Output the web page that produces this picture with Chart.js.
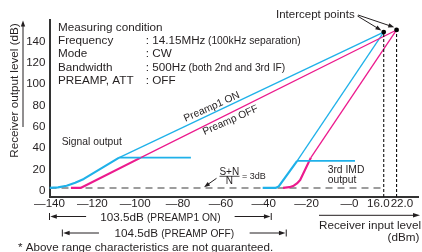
<!DOCTYPE html>
<html><head><meta charset="utf-8">
<script src="https://cdn.jsdelivr.net/npm/chart.js@4.4.0/dist/chart.umd.min.js"></script>
<style>html,body{margin:0;padding:0;background:#fff;}canvas{display:block;}</style>
</head><body>
<canvas id="c" width="422" height="252"></canvas>
<script>
// ---------- data (dBm in, dB out) ----------
const xTickValues = [-140, -120, -100, -80, -60, -40, -20, 0];
const xTickLabels = ['—140', '—120', '—100', '—80', '—60', '—40', '—20', '—0'];
const yTickValues = [0, 20, 40, 60, 80, 100, 120, 140];
const interceptLabels = ['16.0', '22.0'];

const noiseX = [-140, 16];
const noiseY = [2.5, 2.5];

// Preamp1 ON – signal output
const sigOnLowX = [-140, -136, -132, -128, -124, -107.5];
const sigOnLowY = [2.5, 3, 4.6, 7.4, 11, 31];
const sigOnSatX = [-107.5, -74];
const sigOnSatY = [31, 31];
const sigOnExtX = [-107.5, 16];
const sigOnExtY = [31, 149];

// Preamp OFF – signal output
const sigOffLowX = [-130, -125.5, -97.4];
const sigOffLowY = [2.5, 2.5, 31];
const sigOffExtX = [-97.4, 22];
const sigOffExtY = [31, 151];

// Preamp1 ON – 3rd IMD output
const imdOnLowX = [-40.5, -34.5, -33, -24.4];
const imdOnLowY = [2.5, 2.5, 4, 28];
const imdOnSatX = [-24.4, 2.6];
const imdOnSatY = [28, 28];
const imdOnExtX = [-24.4, 16];
const imdOnExtY = [28, 149];

// Preamp OFF – 3rd IMD output
const imdOffLowX = [-31, -28, -26, -24.5, -23, -18];
const imdOffLowY = [2.5, 3.2, 4.6, 6.8, 10, 31];
const imdOffExtX = [-18, 22];
const imdOffExtY = [31, 151];

// intercept points
const interceptX = [16, 22];
const interceptY = [149, 151];

// dynamic ranges
const rangeOn = [-140, -36.5];
const rangeOff = [-134, -29.5];
const rangeLabels = ['103.5dB', '104.5dB'];
const rangeNotes = ['(PREAMP1 ON)', '(PREAMP OFF)'];

// measuring condition text
const condTitle = 'Measuring condition';
const condLabels = ['Frequency', 'Mode', 'Bandwidth', 'PREAMP, ATT'];
const condValues = [': 14.15MHz', ': CW', ': 500Hz', ': OFF'];
const condNotes = ['(100kHz separation)', '', '(both 2nd and 3rd IF)', ''];

// ---------- styles ----------
const FONT = "'Liberation Sans', Arial, Helvetica, sans-serif";
const TEXT = '#231f20';
const AXIS = '#333333';
const CYAN = '#1fb1e9';
const MAGENTA = '#ec1a8d';

const pts = (xs, ys) => xs.map((v, i) => ({x: v, y: ys[i]}));
function ds(xs, ys, color, width, extra) {
  return Object.assign({
    data: pts(xs, ys), borderColor: color, borderWidth: width,
    pointRadius: 0, fill: false, tension: 0,
    borderCapStyle: 'butt', borderJoinStyle: 'round'
  }, extra || {});
}
function interp(xs, ys, v) {
  for (let i = 0; i < xs.length - 1; i++) {
    if (v >= xs[i] && v <= xs[i + 1]) return ys[i] + (ys[i + 1] - ys[i]) * (v - xs[i]) / (xs[i + 1] - xs[i]);
  }
  return ys[ys.length - 1];
}

function arrowHead(ctx, x, y, ang, len, half) {
  ctx.beginPath();
  ctx.moveTo(x, y);
  ctx.lineTo(x - len * Math.cos(ang) + half * Math.sin(ang), y - len * Math.sin(ang) - half * Math.cos(ang));
  ctx.lineTo(x - len * Math.cos(ang) - half * Math.sin(ang), y - len * Math.sin(ang) + half * Math.cos(ang));
  ctx.closePath();
  ctx.fill();
}
function arrow(ctx, x1, y1, x2, y2, len, half, lw) {
  len = len || 6; half = half || 2.2; lw = lw || 1;
  const ang = Math.atan2(y2 - y1, x2 - x1);
  ctx.lineWidth = lw;
  ctx.beginPath();
  ctx.moveTo(x1, y1);
  ctx.lineTo(x2 - len * 0.7 * Math.cos(ang), y2 - len * 0.7 * Math.sin(ang));
  ctx.stroke();
  arrowHead(ctx, x2, y2, ang, len, half);
}

const annot = {
  id: 'annot',
  afterDraw(chart) {
    const ctx = chart.ctx;
    const xs = chart.scales.x, ys = chart.scales.y;
    const X = v => xs.getPixelForValue(v), Y = v => ys.getPixelForValue(v);
    ctx.save();
    ctx.fillStyle = TEXT;
    ctx.strokeStyle = TEXT;
    ctx.textBaseline = 'alphabetic';
    const setFont = s => { ctx.font = s + 'px ' + FONT; };
    const txt = (t, x, y, size, align) => { setFont(size); ctx.textAlign = align || 'left'; ctx.fillText(t, x, y); };

    // measuring condition block
    txt(condTitle, 58, 30.7, 11.7);
    condLabels.forEach((l, i) => {
      const by = 30.7 + 13.3 * (i + 1);
      txt(l, 58, by, 11.7);
      txt(condValues[i], 145.7, by, 11.7);
      if (condNotes[i]) {
        setFont(11.7);
        const w = ctx.measureText(condValues[i]).width;
        txt(condNotes[i], 145.7 + w + 2.5, by, 10.3);
      }
    });

    // y axis title + arrow
    ctx.save();
    ctx.translate(17.5, 90.5);
    ctx.rotate(-Math.PI / 2);
    txt('Receiver output level (dB)', 0, 0, 11.7, 'center');
    ctx.restore();
    arrow(ctx, 23, 127, 23, 20.5, 6, 2.2, 1);

    // x axis title + arrow
    txt('Receiver input level', 319, 229.3, 11.7);
    txt('(dBm)', 419.3, 241, 11.7, 'right');
    arrow(ctx, 319, 215.3, 420, 215.3, 7, 2.3, 1);

    // intercept tick labels
    const mid = (X(interceptX[0]) + X(interceptX[1])) / 2;
    txt(interceptLabels[0], mid - 0.5, 207.3, 11.6, 'right');
    txt(interceptLabels[1], mid + 0.5, 207.3, 11.6, 'left');

    // intercept points annotation
    txt('Intercept points', 276, 18.3, 11.5);
    arrow(ctx, 357.5, 16, X(interceptX[0]) - 2.3, Y(interceptY[0]) - 1.6, 6, 2.2, 1);
    arrow(ctx, 358, 15, X(interceptX[1]) - 2.3, Y(interceptY[1]) - 2.7, 6, 2.2, 1);

    // S+N / N = 3dB
    txt('S+N', 229.3, 174.5, 10, 'center');
    ctx.lineWidth = 0.8;
    ctx.beginPath(); ctx.moveTo(219.5, 176.3); ctx.lineTo(239.5, 176.3); ctx.stroke();
    txt('N', 229.3, 183.5, 10, 'center');
    txt('= 3dB', 242, 179.2, 9, 'left');
    arrow(ctx, 216.5, 178.3, 204, Y(noiseY[0]) - 0.8, 6, 2.2, 1);

    // series labels
    txt('Signal output', 61.7, 144.5, 10.3);
    txt('3rd IMD', 327.7, 172.7, 10.3);
    txt('output', 327.7, 183, 10.3);

    const onX = -63.7, offX = -55;
    ctx.save();
    ctx.translate(X(onX), Y(interp(sigOnExtX, sigOnExtY, onX)) - 3.6);
    ctx.rotate(-24 * Math.PI / 180);
    txt('Preamp1 ON', 0, 0, 10.3, 'center');
    ctx.restore();
    ctx.save();
    ctx.translate(X(offX), Y(interp(sigOffExtX, sigOffExtY, offX)) + 10.6);
    ctx.rotate(-24 * Math.PI / 180);
    txt('Preamp OFF', 0, 0, 10.3, 'center');
    ctx.restore();

    // dynamic range rows
    const rows = [[rangeOn, 216.5, 220.5], [rangeOff, 233, 237]];
    rows.forEach((r, i) => {
      const [rg, ay, by] = r;
      const x1 = X(rg[0]), x2 = X(rg[1]);
      ctx.lineWidth = 1;
      ctx.beginPath();
      ctx.moveTo(x1, ay - 3.5); ctx.lineTo(x1, ay + 3.5);
      ctx.moveTo(x2, ay - 3.5); ctx.lineTo(x2, ay + 3.5);
      ctx.stroke();
      arrow(ctx, x1 + 36.6, ay, x1 + 0.8, ay, 6.5, 2.3, 1);
      arrow(ctx, x2 - 36.6, ay, x2 - 0.8, ay, 6.5, 2.3, 1);
      setFont(11.7); const w1 = ctx.measureText(rangeLabels[i] + ' ').width;
      setFont(10.2); const w2 = ctx.measureText(rangeNotes[i]).width;
      const sx = (x1 + x2) / 2 - (w1 + w2) / 2;
      txt(rangeLabels[i], sx, by, 11.7);
      txt(rangeNotes[i], sx + w1, by, 10.2);
    });

    // footnote
    txt('* Above range characteristics are not guaranteed.', 18, 251, 11.6);

    ctx.restore();
  }
};

new Chart(document.getElementById('c'), {
  type: 'line',
  data: {
    datasets: [
      {type: 'scatter', data: pts(interceptX, interceptY), showLine: false, pointRadius: 2.4,
       pointBackgroundColor: '#000', pointBorderWidth: 0, borderColor: '#000'},
      ds([interceptX[0], interceptX[0]], [-6, interceptY[0]], '#111', 1.1, {borderDash: [3, 2]}),
      ds([interceptX[1], interceptX[1]], [-6, interceptY[1]], '#111', 1.1, {borderDash: [3, 2]}),
      ds(sigOnExtX, sigOnExtY, CYAN, 1.3),
      ds(sigOffExtX, sigOffExtY, MAGENTA, 1.3),
      ds(imdOnExtX, imdOnExtY, CYAN, 1.3),
      ds(imdOffExtX, imdOffExtY, MAGENTA, 1.3),
      ds(sigOnSatX, sigOnSatY, CYAN, 1.8),
      ds(imdOnSatX, imdOnSatY, CYAN, 1.8),
      ds(sigOffLowX, sigOffLowY, MAGENTA, 2.2),
      ds(imdOffLowX, imdOffLowY, MAGENTA, 2.2),
      ds(sigOnLowX, sigOnLowY, CYAN, 2.2),
      ds(imdOnLowX, imdOnLowY, CYAN, 2.2),
      ds(noiseX, noiseY, '#7d7d7d', 1.5, {borderDash: [7, 5]})
    ]
  },
  options: {
    responsive: false,
    animation: false,
    devicePixelRatio: 1,
    events: [],
    layout: {padding: {top: 20.4, right: 1, left: 0, bottom: 0}},
    plugins: {legend: {display: false}, tooltip: {enabled: false}},
    scales: {
      x: {
        type: 'linear', min: -140, max: 32,
        grid: {display: false, drawTicks: false},
        border: {display: true, color: AXIS, width: 2},
        afterBuildTicks: s => { s.ticks = xTickValues.map(v => ({value: v})); },
        afterFit: s => { s.height = 55; },
        ticks: {
          autoSkip: false, maxRotation: 0, minRotation: 0, padding: 0, color: TEXT,
          font: {family: FONT, size: 11.6},
          callback: (v, i) => xTickLabels[i]
        }
      },
      y: {
        type: 'linear', min: -6, max: 160,
        grid: {display: false, drawTicks: false},
        border: {display: true, color: AXIS, width: 2},
        afterBuildTicks: s => { s.ticks = yTickValues.map(v => ({value: v})); },
        afterFit: s => { s.width = 49.5; },
        ticks: {
          autoSkip: false, padding: 4, color: TEXT,
          font: {family: FONT, size: 11.6},
          callback: v => String(v)
        }
      }
    }
  },
  plugins: [annot]
});
</script>
</body></html>
